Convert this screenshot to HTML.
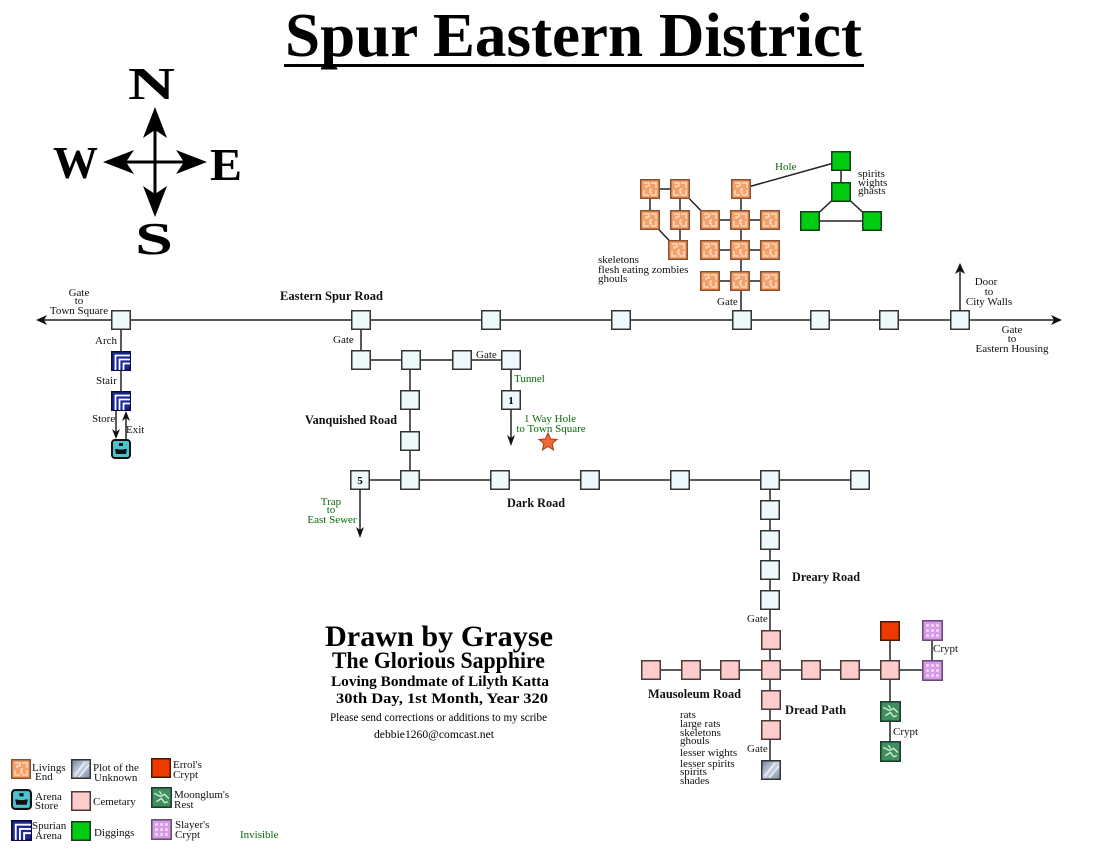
<!DOCTYPE html>
<html><head><meta charset="utf-8"><style>
html,body{margin:0;padding:0;background:#fff;}
svg{display:block;}
text{font-family:"Liberation Serif",serif;}
.s{font-size:11px;fill:#111;}
.b{font-size:12.5px;font-weight:bold;fill:#111;}
.g{font-size:11px;fill:#0a6a0a;}
</style></head><body>
<svg width="1100" height="850" viewBox="0 0 1100 850" xmlns="http://www.w3.org/2000/svg">
<defs>
<symbol id="L" viewBox="0 0 20 20"><rect x="0.75" y="0.75" width="18.5" height="18.5" fill="#eef9fb" stroke="#333" stroke-width="1.5"/></symbol>
<symbol id="P" viewBox="0 0 20 20"><rect x="0.75" y="0.75" width="18.5" height="18.5" fill="#ffcccc" stroke="#4a3a3a" stroke-width="1.5"/></symbol>
<symbol id="G" viewBox="0 0 20 20"><rect x="0.75" y="0.75" width="18.5" height="18.5" fill="#00cc11" stroke="#1a3a1a" stroke-width="1.5"/></symbol>
<symbol id="R" viewBox="0 0 20 20"><rect x="0.75" y="0.75" width="18.5" height="18.5" fill="#ee3a00" stroke="#4a1a00" stroke-width="1.5"/></symbol>
<symbol id="V" viewBox="0 0 20 20"><rect x="0.75" y="0.75" width="18.5" height="18.5" fill="#d79be6" stroke="#6a4a7a" stroke-width="1.5"/>
<g fill="#f4ddf8"><rect x="4" y="4" width="2.5" height="2.5"/><rect x="8.8" y="4" width="2.5" height="2.5"/><rect x="13.5" y="4" width="2.5" height="2.5"/><rect x="4" y="8.8" width="2.5" height="2.5"/><rect x="8.8" y="8.8" width="2.5" height="2.5"/><rect x="13.5" y="8.8" width="2.5" height="2.5"/><rect x="4" y="13.5" width="2.5" height="2.5"/><rect x="8.8" y="13.5" width="2.5" height="2.5"/><rect x="13.5" y="13.5" width="2.5" height="2.5"/></g></symbol>
<symbol id="M" viewBox="0 0 20 20"><rect x="0.75" y="0.75" width="18.5" height="18.5" fill="#3f8f5f" stroke="#1d3d2d" stroke-width="1.5"/>
<path d="M3 6l6 3 4-2 4 4M5 14l5-3 3 4 3-1M8 4l2 3" stroke="#d0f0d8" stroke-width="1.3" fill="none"/></symbol>
<linearGradient id="pg" x1="0" y1="0" x2="1" y2="1"><stop offset="0" stop-color="#6f7f99"/><stop offset="0.5" stop-color="#c8d2e0"/><stop offset="1" stop-color="#7a8aa4"/></linearGradient>
<symbol id="T" viewBox="0 0 20 20"><rect x="0.75" y="0.75" width="18.5" height="18.5" fill="url(#pg)" stroke="#333" stroke-width="1.5"/>
<path d="M4 16L14 3M8 18L18 6" stroke="#eef2f8" stroke-width="1.5" fill="none"/></symbol>
<symbol id="O" viewBox="0 0 20 20"><rect x="0.75" y="0.75" width="18.5" height="18.5" fill="#f3a06a" stroke="#8a5030" stroke-width="1.5"/>
<path d="M4 4h5v3H6v2M11 4h5v5M4 11v5h5M16 11v5h-5M11 9v2H9M9 13h2v2" stroke="#fde2ca" stroke-width="1.3" fill="none"/></symbol>
<symbol id="S" viewBox="0 0 20 20"><rect x="0.75" y="0.75" width="18.5" height="18.5" fill="#1b2a96" stroke="#0a0a40" stroke-width="1.5"/>
<path d="M4.5 19V4.5H19M8.5 19V8.5H19M12.5 19V12.5H19" stroke="#fff" stroke-width="1.8" fill="none"/></symbol>
<symbol id="A" viewBox="0 0 20 20"><rect x="1" y="1" width="18" height="18" rx="3" fill="#4cc4d0" stroke="#111" stroke-width="2"/>
<rect x="8" y="4" width="4" height="3" fill="#111"/><path d="M4 10h12l-1 5H5z" fill="#111"/><rect x="7" y="9" width="6" height="1.5" fill="#4cc4d0"/></symbol>
</defs>

<!-- Title -->
<text x="285" y="56" font-size="62" font-weight="bold" textLength="577" lengthAdjust="spacingAndGlyphs" fill="#000">Spur Eastern District</text>
<rect x="284" y="64" width="580" height="3" fill="#000"/>

<!-- Compass -->
<g stroke="#000" stroke-width="3"><line x1="155" y1="128" x2="155" y2="196"/><line x1="124" y1="162" x2="186" y2="162"/></g>
<g fill="#000">
<polygon points="155,107 167,138 155,130 143,138"/>
<polygon points="155,217 167,186 155,194 143,186"/>
<polygon points="103,162 134,150 126,162 134,174"/>
<polygon points="207,162 176,150 184,162 176,174"/>
</g>
<g font-weight="bold" fill="#000">
<text x="128" y="99" font-size="46" textLength="47" lengthAdjust="spacingAndGlyphs">N</text>
<text x="53" y="178" font-size="46" textLength="45" lengthAdjust="spacingAndGlyphs">W</text>
<text x="210" y="180" font-size="46" textLength="32" lengthAdjust="spacingAndGlyphs">E</text>
<text x="135" y="254" font-size="46" textLength="38" lengthAdjust="spacingAndGlyphs">S</text>
</g>

<!-- Connectors -->
<g stroke="#222" stroke-width="1.5" fill="none">
<path d="M44 320H1054"/>
<path d="M960 320V270"/>
<path d="M121 320V401"/>
<path d="M116 411V432"/>
<path d="M126 439V418"/>
<path d="M361 320V360H511V400"/>
<path d="M511 400V438"/>
<path d="M410 360V480"/>
<path d="M360 480H860"/>
<path d="M360 480V530"/>
<path d="M770 480V770"/>
<path d="M651 670H932"/>
<path d="M890 631V751"/>
<path d="M932 630V670"/>
<path d="M650 189H680M650 189V220M680 189V250M680 189L710 220M650 220L678 250"/>
<path d="M710 220H770M741 189V320M710 250H770M710 281H770"/>
<path d="M741 189L841 161"/>
<path d="M841 161V192L810 221H872L841 192"/>
</g>
<g fill="#111">
<polygon points="36,320 47,315 44,320 47,325"/>
<polygon points="1062,320 1051,315 1054,320 1051,325"/>
<polygon points="960,263 955,274 960,271 965,274"/>
<polygon points="116,439 112,429 116,432 120,429"/>
<polygon points="126,411 122,421 126,418 130,421"/>
<polygon points="511,446 507,435 511,438 515,435"/>
<polygon points="360,538 356,527 360,530 364,527"/>
</g>

<!-- Light nodes -->
<g>
<use href="#L" x="111" y="310" width="20" height="20"/>
<use href="#L" x="351" y="310" width="20" height="20"/>
<use href="#L" x="481" y="310" width="20" height="20"/>
<use href="#L" x="611" y="310" width="20" height="20"/>
<use href="#L" x="732" y="310" width="20" height="20"/>
<use href="#L" x="810" y="310" width="20" height="20"/>
<use href="#L" x="879" y="310" width="20" height="20"/>
<use href="#L" x="950" y="310" width="20" height="20"/>
<use href="#L" x="351" y="350" width="20" height="20"/>
<use href="#L" x="401" y="350" width="20" height="20"/>
<use href="#L" x="452" y="350" width="20" height="20"/>
<use href="#L" x="501" y="350" width="20" height="20"/>
<use href="#L" x="501" y="390" width="20" height="20"/>
<use href="#L" x="400" y="390" width="20" height="20"/>
<use href="#L" x="400" y="431" width="20" height="20"/>
<use href="#L" x="350" y="470" width="20" height="20"/>
<use href="#L" x="400" y="470" width="20" height="20"/>
<use href="#L" x="490" y="470" width="20" height="20"/>
<use href="#L" x="580" y="470" width="20" height="20"/>
<use href="#L" x="670" y="470" width="20" height="20"/>
<use href="#L" x="760" y="470" width="20" height="20"/>
<use href="#L" x="850" y="470" width="20" height="20"/>
<use href="#L" x="760" y="500" width="20" height="20"/>
<use href="#L" x="760" y="530" width="20" height="20"/>
<use href="#L" x="760" y="560" width="20" height="20"/>
<use href="#L" x="760" y="590" width="20" height="20"/>
</g>
<text x="511" y="404" font-size="11" font-weight="bold" text-anchor="middle">1</text>
<text x="360" y="484" font-size="11" font-weight="bold" text-anchor="middle">5</text>

<!-- Special nodes -->
<use href="#S" x="111" y="351" width="20" height="20"/>
<use href="#S" x="111" y="391" width="20" height="20"/>
<use href="#A" x="111" y="439" width="20" height="20"/>

<use href="#O" x="640" y="179" width="20" height="20"/>
<use href="#O" x="670" y="179" width="20" height="20"/>
<use href="#O" x="731" y="179" width="20" height="20"/>
<use href="#O" x="640" y="210" width="20" height="20"/>
<use href="#O" x="670" y="210" width="20" height="20"/>
<use href="#O" x="700" y="210" width="20" height="20"/>
<use href="#O" x="730" y="210" width="20" height="20"/>
<use href="#O" x="760" y="210" width="20" height="20"/>
<use href="#O" x="668" y="240" width="20" height="20"/>
<use href="#O" x="700" y="240" width="20" height="20"/>
<use href="#O" x="730" y="240" width="20" height="20"/>
<use href="#O" x="760" y="240" width="20" height="20"/>
<use href="#O" x="700" y="271" width="20" height="20"/>
<use href="#O" x="730" y="271" width="20" height="20"/>
<use href="#O" x="760" y="271" width="20" height="20"/>

<use href="#G" x="831" y="151" width="20" height="20"/>
<use href="#G" x="831" y="182" width="20" height="20"/>
<use href="#G" x="800" y="211" width="20" height="20"/>
<use href="#G" x="862" y="211" width="20" height="20"/>

<use href="#P" x="761" y="630" width="20" height="20"/>
<use href="#P" x="641" y="660" width="20" height="20"/>
<use href="#P" x="681" y="660" width="20" height="20"/>
<use href="#P" x="720" y="660" width="20" height="20"/>
<use href="#P" x="761" y="660" width="20" height="20"/>
<use href="#P" x="801" y="660" width="20" height="20"/>
<use href="#P" x="840" y="660" width="20" height="20"/>
<use href="#P" x="880" y="660" width="20" height="20"/>
<use href="#P" x="761" y="690" width="20" height="20"/>
<use href="#P" x="761" y="720" width="20" height="20"/>
<use href="#T" x="761" y="760" width="20" height="20"/>
<use href="#R" x="880" y="621" width="20" height="20"/>
<use href="#V" x="922" y="620" width="21" height="21"/>
<use href="#V" x="922" y="660" width="21" height="21"/>
<use href="#M" x="880" y="701" width="21" height="21"/>
<use href="#M" x="880" y="741" width="21" height="21"/>

<!-- Star -->
<polygon points="548,433 550.6,439 557,439.4 552.1,443.6 553.6,450 548,446.5 542.4,450 543.9,443.6 539,439.4 545.4,439" fill="#f06a3a" stroke="#a83a10" stroke-width="1"/>

<!-- Labels -->
<g class="s" text-anchor="middle">
<text x="79" y="296">Gate</text><text x="79" y="304">to</text><text x="79" y="314">Town Square</text>
<text x="986" y="285">Door</text><text x="989" y="295">to</text><text x="989" y="305">City Walls</text>
<text x="1012" y="333">Gate</text><text x="1012" y="342">to</text><text x="1012" y="352">Eastern Housing</text>
</g>
<g class="s">
<text x="95" y="344">Arch</text>
<text x="96" y="384">Stair</text>
<text x="92" y="422">Store</text>
<text x="126" y="433">Exit</text>
<text x="333" y="343">Gate</text>
<text x="476" y="358">Gate</text>
<text x="717" y="305">Gate</text>
<text x="747" y="622">Gate</text>
<text x="747" y="752">Gate</text>
<text x="933" y="652">Crypt</text>
<text x="893" y="735">Crypt</text>
<text x="598" y="263">skeletons</text>
<text x="598" y="273">flesh eating zombies</text>
<text x="598" y="282">ghouls</text>
<text x="858" y="177">spirits</text>
<text x="858" y="186">wights</text>
<text x="858" y="194">ghasts</text>
<text x="680" y="718">rats</text>
<text x="680" y="727">large rats</text>
<text x="680" y="736">skeletons</text>
<text x="680" y="744">ghouls</text>
<text x="680" y="756">lesser wights</text>
<text x="680" y="767">lesser spirits</text>
<text x="680" y="775">spirits</text>
<text x="680" y="784">shades</text>
</g>
<g class="g">
<text x="775" y="170">Hole</text>
<text x="514" y="382">Tunnel</text>
<text x="550" y="422" text-anchor="middle">1 Way Hole</text>
<text x="551" y="432" text-anchor="middle">to Town Square</text>
<text x="331" y="505" text-anchor="middle">Trap</text>
<text x="331" y="513" text-anchor="middle">to</text>
<text x="332" y="523" text-anchor="middle">East Sewer</text>
<text x="240" y="838">Invisible</text>
</g>
<g class="b">
<text x="280" y="300" textLength="103" lengthAdjust="spacingAndGlyphs">Eastern Spur Road</text>
<text x="305" y="424" textLength="92" lengthAdjust="spacingAndGlyphs">Vanquished Road</text>
<text x="507" y="507" textLength="58" lengthAdjust="spacingAndGlyphs">Dark Road</text>
<text x="792" y="581" textLength="68" lengthAdjust="spacingAndGlyphs">Dreary Road</text>
<text x="648" y="698" textLength="93" lengthAdjust="spacingAndGlyphs">Mausoleum Road</text>
<text x="785" y="714" textLength="61" lengthAdjust="spacingAndGlyphs">Dread Path</text>
</g>

<!-- Drawn by -->
<g fill="#000" font-weight="bold">
<text x="325" y="646" font-size="30" textLength="228" lengthAdjust="spacingAndGlyphs">Drawn by Grayse</text>
<text x="332" y="668" font-size="23" textLength="213" lengthAdjust="spacingAndGlyphs">The Glorious Sapphire</text>
<text x="331" y="686" font-size="15" textLength="218" lengthAdjust="spacingAndGlyphs">Loving Bondmate of Lilyth Katta</text>
<text x="336" y="703" font-size="15" textLength="212" lengthAdjust="spacingAndGlyphs">30th Day, 1st Month, Year 320</text>
</g>
<text x="330" y="721" font-size="11.5" fill="#000" textLength="217" lengthAdjust="spacingAndGlyphs">Please send corrections or additions to my scribe</text>
<text x="374" y="738" font-size="11.5" fill="#000" textLength="120" lengthAdjust="spacingAndGlyphs">debbie1260@comcast.net</text>

<!-- Legend -->
<use href="#O" x="11" y="759" width="20" height="20"/>
<use href="#T" x="71" y="759" width="20" height="20"/>
<use href="#R" x="151" y="758" width="20" height="20"/>
<use href="#A" x="11" y="789" width="21" height="21"/>
<use href="#P" x="71" y="791" width="20" height="20"/>
<use href="#M" x="151" y="787" width="21" height="21"/>
<use href="#S" x="11" y="820" width="21" height="21"/>
<use href="#G" x="71" y="821" width="20" height="20"/>
<use href="#V" x="151" y="819" width="21" height="21"/>
<g class="s">
<text x="32" y="771">Livings</text><text x="35" y="780">End</text>
<text x="93" y="771">Plot of the</text><text x="94" y="781">Unknown</text>
<text x="173" y="768">Errol's</text><text x="173" y="778">Crypt</text>
<text x="35" y="800">Arena</text><text x="35" y="809">Store</text>
<text x="93" y="805">Cemetary</text>
<text x="174" y="798">Moonglum's</text><text x="174" y="808">Rest</text>
<text x="32" y="829">Spurian</text><text x="35" y="839">Arena</text>
<text x="94" y="836">Diggings</text>
<text x="175" y="828">Slayer's</text><text x="175" y="838">Crypt</text>
</g>
</svg>
</body></html>
